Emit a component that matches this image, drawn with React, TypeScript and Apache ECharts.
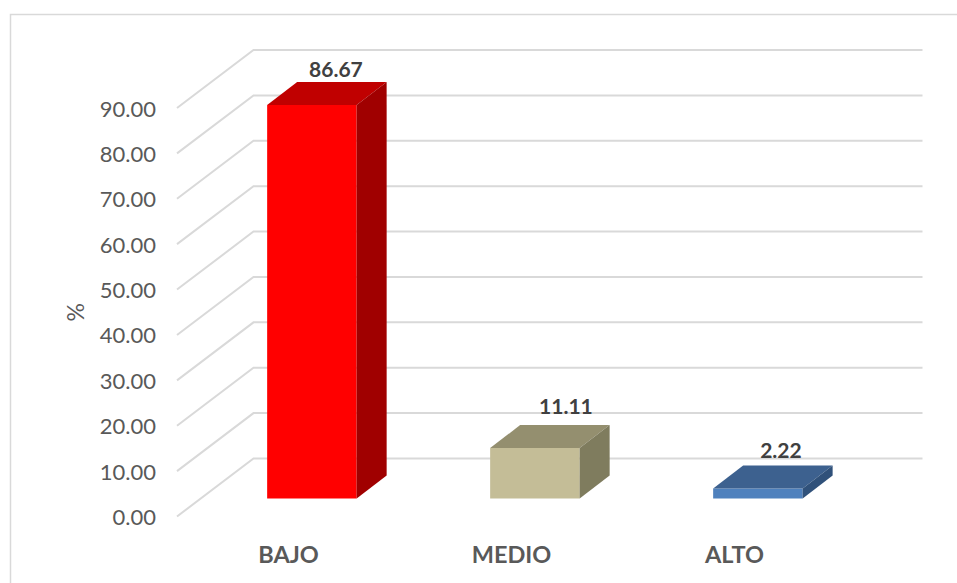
import React, { useEffect, useRef } from "react";
import * as echarts from "echarts";

const categories = ["BAJO", "MEDIO", "ALTO"];
const values = [86.67, 11.11, 2.22];
const valueLabels = ["86.67", "11.11", "2.22"];
const ticks = [0, 10, 20, 30, 40, 50, 60, 70, 80, 90];

const FRONT = ["#ff0000", "#c4bd97", "#4f81bd"];
const TOP = ["#c00000", "#948f6f", "#3d618f"];
const SIDE = ["#a00000", "#7f7c5e", "#30517a"];
const LABEL_NUDGE_X = [24, 31, 23];
const LABEL_NUDGE_Y = [-37, -43, -39];

const FONT = "Lato";
const WALL_DX = 76.5;
const WALL_DY = 58;
const BAR_DX = 23.4;
const BAR_DY = 18;
const BAR_W = 89.5;
const DEPTH_X = 30;
const DEPTH_Y = 23;

export default function App() {
  const ref = useRef<HTMLDivElement>(null);
  useEffect(() => {
    const chart = echarts.init(ref.current!, undefined, { renderer: "svg" });
    chart.setOption({
      animation: false,
      backgroundColor: "#ffffff",
      grid: { left: 177, top: 108, width: 669, height: 408.5 },
      graphic: [
        {
          type: "polyline",
          silent: true,
          z: 0,
          shape: { points: [[10.5, 583], [10.5, 14.5], [957, 14.5]] },
          style: { fill: "none", stroke: "#d9d9d9", lineWidth: 1.5 },
        },
      ],
      xAxis: {
        type: "category",
        data: categories,
        axisLine: { show: false },
        axisTick: { show: false },
        splitLine: { show: false },
        axisLabel: { color: "#595959", fontFamily: FONT, fontWeight: "bold", fontSize: 23.5, margin: 25 },
      },
      yAxis: {
        type: "value",
        min: 0,
        max: 90,
        interval: 10,
        name: "%",
        nameLocation: "middle",
        nameGap: 91,
        nameRotate: 90,
        nameTextStyle: { color: "#595959", fontFamily: FONT, fontSize: 23 },
        axisLine: { show: false },
        axisTick: { show: false },
        splitLine: { show: false },
        axisLabel: {
          color: "#595959",
          fontFamily: FONT,
          fontSize: 22,
          margin: 21,
          formatter: (v: number) => v.toFixed(2),
        },
      },
      series: [
        {
          type: "custom",
          name: "grid",
          z: 1,
          silent: true,
          coordinateSystem: "cartesian2d",
          data: ticks.map((t) => [0, t]),
          encode: { x: 0, y: 1 },
          renderItem: (params: any, api: any) => {
            const y = api.coord([0, api.value(1)])[1];
            const cs = params.coordSys;
            return {
              type: "polyline",
              shape: {
                points: [
                  [cs.x, y],
                  [cs.x + WALL_DX, y - WALL_DY],
                  [cs.x + cs.width + WALL_DX, y - WALL_DY],
                ],
              },
              style: { fill: "none", stroke: "#d9d9d9", lineWidth: 2 },
            };
          },
        },
        {
          type: "custom",
          name: "%",
          z: 2,
          coordinateSystem: "cartesian2d",
          data: values.map((v, i) => [i, v]),
          encode: { x: 0, y: 1 },
          renderItem: (params: any, api: any) => {
            const i = params.dataIndex;
            const top = api.coord([i, api.value(1)]);
            const base = api.coord([i, 0]);
            const x0 = top[0] + BAR_DX - BAR_W / 2;
            const x1 = x0 + BAR_W;
            const yT = top[1] - BAR_DY;
            const yB = base[1] - BAR_DY;
            return {
              type: "group",
              children: [
                {
                  type: "polygon",
                  shape: { points: [[x0, yT], [x1, yT], [x1, yB], [x0, yB]] },
                  style: { fill: FRONT[i] },
                },
                {
                  type: "polygon",
                  shape: { points: [[x0, yT], [x0 + DEPTH_X, yT - DEPTH_Y], [x1 + DEPTH_X, yT - DEPTH_Y], [x1, yT]] },
                  style: { fill: TOP[i] },
                },
                {
                  type: "polygon",
                  shape: { points: [[x1, yT], [x1 + DEPTH_X, yT - DEPTH_Y], [x1 + DEPTH_X, yB - DEPTH_Y], [x1, yB]] },
                  style: { fill: SIDE[i] },
                },
                {
                  type: "text",
                  style: {
                    text: valueLabels[i],
                    x: (x0 + x1) / 2 + LABEL_NUDGE_X[i],
                    y: yT + LABEL_NUDGE_Y[i],
                    align: "center",
                    verticalAlign: "middle",
                    fontFamily: FONT,
                    fontWeight: "bold",
                    fontSize: 21,
                    fill: "#404040",
                  },
                },
              ],
            };
          },
        },
      ],
    });
    return () => chart.dispose();
  }, []);
  return <div ref={ref} style={{ width: 957, height: 583, position: "absolute", left: 0, top: 0 }} />;
}
